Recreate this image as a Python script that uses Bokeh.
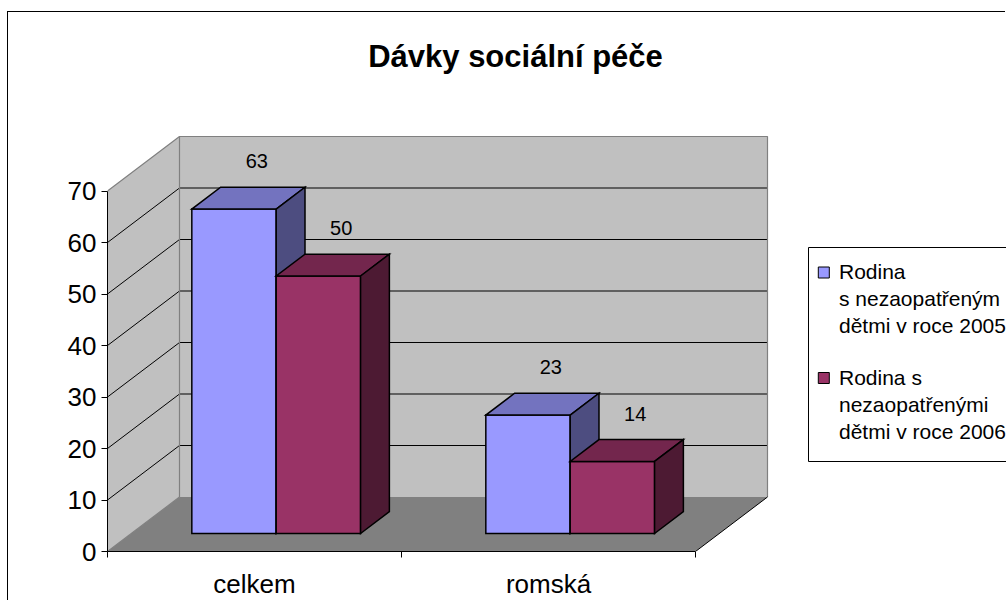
from bokeh.plotting import figure
from bokeh.models import FixedTicker
from bokeh.core.properties import value
from bokeh.embed import file_html
from bokeh.resources import INLINE

# ---------------- data ----------------
title_text = "Dávky sociální péče"
categories = ["celkem", "romská"]
series_labels = [
    ["Rodina", "s nezaopatřeným", "dětmi v roce 2005"],
    ["Rodina s", "nezaopatřenými", "dětmi v roce 2006"],
]
values_2005 = [63, 23]
values_2006 = [50, 14]
y_ticks = [0, 10, 20, 30, 40, 50, 60, 70]

# ---------------- styles ----------------
front_colors = ["#9999FF", "#993366"]
top_colors = ["#7373BF", "#73264D"]
side_colors = ["#4D4D80", "#4D1A33"]
WALL = "#C0C0C0"
FLOOR = "#808080"
EDGE = "#808080"
FONT = "Liberation Sans"

# ---------------- layout (screen px) ----------------
FIG_X0, FIG_Y0 = 8, 12
W, H = 998, 589
AX_X, AX_Y = 107, 551          # screen position of (x=0, value=0) front plane
PX_CAT = 294.0                 # px per category
PX_VAL = 5.15                  # px per value unit
DEPTH_PX = (72.0, 54.5)        # oblique depth vector (px)
DX = DEPTH_PX[0] / PX_CAT
DY = DEPTH_PX[1] / PX_VAL
D0, D1 = 0.33, 0.73            # bar depth span
BAR_OFF, BAR_W = 0.206, 0.287
VMAX = y_ticks[-1]
NCAT = len(categories)

x_end = (FIG_X0 + W - AX_X) / PX_CAT
y_end = (AX_Y - FIG_Y0) / PX_VAL


def sx(px):
    return (px - AX_X) / PX_CAT


def sy(py):
    return (AX_Y - py) / PX_VAL


def proj(cx, v, d):
    return cx + d * DX, v + d * DY


def poly(pts):
    xs, ys = zip(*[proj(*pt) for pt in pts])
    return list(xs), list(ys)


p = figure(width=W, height=H, x_range=(0, x_end), y_range=(0, y_end),
           output_backend="svg", toolbar_location=None,
           min_border_left=AX_X - FIG_X0, min_border_right=0,
           min_border_top=0, min_border_bottom=H - (AX_Y - FIG_Y0))
p.styles = {"position": "relative", "left": "%dpx" % FIG_X0, "top": "%dpx" % FIG_Y0,
            "box-shadow": "-1px -1px 0 0 #000000"}
p.outline_line_color = None
p.xgrid.visible = False
p.ygrid.visible = False
p.background_fill_color = "white"
p.border_fill_color = "white"

# axes
p.yaxis.ticker = FixedTicker(ticks=y_ticks)
p.yaxis.bounds = (0, VMAX)
p.yaxis.axis_line_color = "black"
p.yaxis.major_tick_line_color = "black"
p.yaxis.major_tick_out = 6
p.yaxis.major_tick_in = 0
p.yaxis.minor_tick_line_color = None
p.yaxis.major_label_text_font = FONT
p.yaxis.major_label_text_font_size = "26px"
p.yaxis.major_label_text_color = "black"
p.yaxis.major_label_standoff = 5

p.xaxis.ticker = FixedTicker(ticks=[i + 0.5 for i in range(NCAT)],
                             minor_ticks=list(range(NCAT + 1)))
p.xaxis.major_label_overrides = {i + 0.5: c for i, c in enumerate(categories)}
p.xaxis.bounds = (0, NCAT)
p.xaxis.axis_line_color = "black"
p.xaxis.major_tick_line_color = None
p.xaxis.major_tick_out = 0
p.xaxis.major_tick_in = 0
p.xaxis.minor_tick_line_color = "black"
p.xaxis.minor_tick_out = 6
p.xaxis.minor_tick_in = 0
p.xaxis.major_label_text_font = FONT
p.xaxis.major_label_text_font_size = "26px"
p.xaxis.major_label_text_color = "black"
p.xaxis.major_label_standoff = 11

# walls and floor
wall_xs, wall_ys = [], []
for pts in ([(0, 0, 1), (NCAT, 0, 1), (NCAT, VMAX, 1), (0, VMAX, 1)],
            [(0, 0, 0), (0, 0, 1), (0, VMAX, 1), (0, VMAX, 0)]):
    xs, ys = poly(pts)
    wall_xs.append(xs)
    wall_ys.append(ys)
p.patches(wall_xs, wall_ys, fill_color=WALL, line_color=None)
fx, fy = poly([(0, 0, 0), (NCAT, 0, 0), (NCAT, 0, 1), (0, 0, 1)])
p.patch(fx, fy, fill_color=FLOOR, line_color=None)

# gridlines on side + back walls
g_xs, g_ys = [], []
for t in y_ticks[1:-1]:
    xs, ys = poly([(0, t, 0), (0, t, 1), (NCAT, t, 1)])
    g_xs.append(xs)
    g_ys.append(ys)
p.multi_line(g_xs, g_ys, line_color="black", line_width=1)

# wall edges
e_xs, e_ys = [], []
for pts in ([(0, VMAX, 0), (0, VMAX, 1), (NCAT, VMAX, 1), (NCAT, 0, 1)],
            [(0, 0, 1), (0, VMAX, 1)],
            [(0, 0, 0), (0, 0, 1)]):
    xs, ys = poly(pts)
    e_xs.append(xs)
    e_ys.append(ys)
p.multi_line(e_xs, e_ys, line_color=EDGE, line_width=1.2)
rx, ry = poly([(NCAT, 0, 0), (NCAT, 0, 1)])
p.line(rx, ry, line_color="black", line_width=1)

# bars
series = [values_2005, values_2006]
b_xs, b_ys, b_col = [], [], []
lab_x, lab_y, lab_t = [], [], []
for i in range(NCAT):
    for j, vals in enumerate(series):
        v = vals[i]
        c0 = i + BAR_OFF + j * BAR_W
        c1 = c0 + BAR_W
        faces = [
            ([(c0, 0, D0), (c1, 0, D0), (c1, v, D0), (c0, v, D0)], front_colors[j]),
            ([(c0, v, D0), (c1, v, D0), (c1, v, D1), (c0, v, D1)], top_colors[j]),
            ([(c1, 0, D0), (c1, 0, D1), (c1, v, D1), (c1, v, D0)], side_colors[j]),
        ]
        for pts, col in faces:
            xs, ys = poly(pts)
            b_xs.append(xs)
            b_ys.append(ys)
            b_col.append(col)
        tx, ty = proj((c0 + c1) / 2, v, D1)
        lab_x.append(tx - 6 / PX_CAT)
        lab_y.append(ty + 26 / PX_VAL)
        lab_t.append(str(v))
p.patches(b_xs, b_ys, fill_color=b_col, line_color="black", line_width=1.5,
          line_join="miter")
p.text(lab_x, lab_y, text=lab_t, text_align="center", text_baseline="middle",
       text_font=value(FONT), text_font_size="20px", text_color="black")

# title
p.text([sx(515)], [sy(55.5)], text=[title_text], text_align="center",
       text_baseline="middle", text_font=value(FONT), text_font_size="31px",
       text_font_style="bold", text_color="black")

# legend (drawn in the frame)
LEG_L, LEG_T, LEG_B = 808, 247, 461
p.quad(left=[sx(LEG_L)], right=[x_end + 0.5], top=[sy(LEG_T)], bottom=[sy(LEG_B)],
       fill_color="white", line_color="black", line_width=1)
sw_x = 823.3
sw_y0 = 272
entry_gap = 105.5
line_gap = 27
for k, lines in enumerate(series_labels):
    cy = sw_y0 + k * entry_gap
    p.quad(left=[sx(sw_x - 5.5)], right=[sx(sw_x + 5.5)], top=[sy(cy - 5.5)],
           bottom=[sy(cy + 5.5)], fill_color=front_colors[k], line_color="black",
           line_width=1)
    p.text([sx(838.5)] * len(lines),
           [sy(cy - 1 + n * line_gap) for n in range(len(lines))],
           text=lines, text_align="left", text_baseline="middle",
           text_font=value(FONT), text_font_size="21px", text_color="black")

open("out.html", "w").write(file_html(p, INLINE))
